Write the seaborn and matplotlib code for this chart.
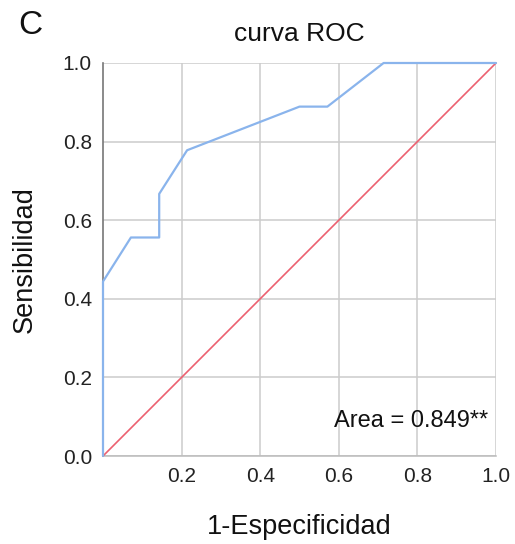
import matplotlib
matplotlib.use("Agg")
import matplotlib.pyplot as plt
import seaborn as sns
import pandas as pd

fpr = [0.0, 0.0, 0.071, 0.143, 0.143, 0.214, 0.5, 0.571, 0.714, 1.0]
tpr = [0.0, 0.444, 0.556, 0.556, 0.667, 0.778, 0.889, 0.889, 1.0, 1.0]
ref_x = [0.0, 1.0]
ref_y = [0.0, 1.0]
xticks = [0.2, 0.4, 0.6, 0.8, 1.0]
yticks = [0.0, 0.2, 0.4, 0.6, 0.8, 1.0]
area_text = "Area = 0.849**"

sns.set_theme(style="whitegrid")
plt.rcParams['font.family'] = ['Liberation Sans', 'DejaVu Sans']

fig = plt.figure(figsize=(5.15, 5.44), dpi=100)
ax = fig.add_axes([103/515, 1 - 456/544, 393/515, 393/544])

roc = pd.DataFrame({"x": fpr, "y": tpr})
diag = pd.DataFrame({"x": ref_x, "y": ref_y})
sns.lineplot(data=diag, x="x", y="y", ax=ax, color="#ec6070", linewidth=1.2,
             sort=False, estimator=None, errorbar=None, zorder=3)
sns.lineplot(data=roc, x="x", y="y", ax=ax, color="#8ab4ec", linewidth=1.6,
             sort=False, estimator=None, errorbar=None, zorder=4)
for ln in ax.get_lines():
    ln.set_clip_on(False)
ax.get_lines()[-1].set_zorder(5)

ax.set_xlim(0, 1)
ax.set_ylim(0, 1)
ax.set_xticks(xticks)
ax.set_yticks(yticks)
ax.set_xticklabels([f"{v:.1f}" for v in xticks], fontsize=15, color="#222222")
ax.set_yticklabels([f"{v:.1f}" for v in yticks], fontsize=15, color="#222222")
ax.tick_params(axis="both", length=0, pad=8)
ax.grid(True, color="#cccccc", linewidth=1.1)
for s in ["top", "right"]:
    ax.spines[s].set_visible(False)
ax.spines["left"].set_color("#777777")
ax.spines["left"].set_linewidth(1.2)
ax.spines["left"].set_zorder(2.5)
ax.spines["bottom"].set_color("#bbbbbb")
ax.spines["bottom"].set_linewidth(1.1)
ax.spines["bottom"].set_zorder(2.5)

ax.set_xlabel("1-Especificidad", fontsize=19.5, labelpad=20, color="#111111")
ax.set_ylabel("Sensibilidad", fontsize=19.5, labelpad=18, color="#111111")
ax.set_title("curva ROC", fontsize=19, pad=16, color="#111111")
fig.text(18/515, 1 - 26/544, "C", fontsize=24, ha="left", va="center", color="#111111")
ax.text(0.98, 0.09, area_text, transform=ax.transAxes, ha="right", va="center",
        fontsize=17, color="#111111")

fig.savefig("out.png", dpi=100)
